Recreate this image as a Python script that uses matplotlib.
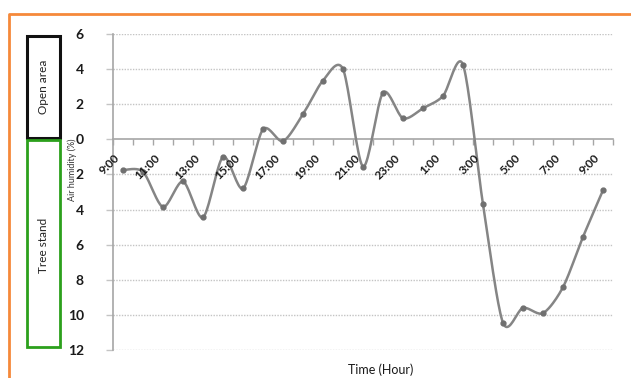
import numpy as np
import matplotlib
matplotlib.use("Agg")
import matplotlib.pyplot as plt
from matplotlib.patches import Rectangle
from matplotlib.lines import Line2D

# ---- data ----
hours = ["9:00", "10:00", "11:00", "12:00", "13:00", "14:00", "15:00", "16:00",
         "17:00", "18:00", "19:00", "20:00", "21:00", "22:00", "23:00", "0:00",
         "1:00", "2:00", "3:00", "4:00", "5:00", "6:00", "7:00", "8:00", "9:00"]
humidity_diff = [-1.75, -1.85, -3.85, -2.4, -4.45, -1.0, -2.8, 0.57, -0.1, 1.43,
                 3.35, 4.0, -1.55, 2.66, 1.2, 1.77, 2.47, 4.25, -3.7, -10.45,
                 -9.6, -9.9, -8.42, -5.56, -2.9]
y_ticks = [-12, -10, -8, -6, -4, -2, 0, 2, 4, 6]
y_tick_labels = ["12", "10", "8", "6", "4", "2", "0", "2", "4", "6"]
label_every = 2

W, H = 631, 378
fig = plt.figure(figsize=(W / 100, H / 100), dpi=100)
plt.rcParams['font.family'] = ['Lato', 'DejaVu Sans']

def fx(px):
    return px / W

def fy(py):
    return 1 - py / H

ax = fig.add_axes([fx(113), fy(350), fx(613) - fx(113), fy(34) - fy(350)])
n = len(humidity_diff)
xs = np.arange(n)
ys = np.array(humidity_diff, dtype=float)

# Catmull-Rom smoothing (Excel-like smoothed line)
def catmull(xp, yp, steps=20, k=0.85):
    P = np.column_stack([xp, yp])
    P = np.vstack([P[0], P, P[-1]])
    out = []
    for i in range(1, len(P) - 2):
        p0, p1, p2, p3 = P[i - 1], P[i], P[i + 1], P[i + 2]
        m1 = k * (p2 - p0) / 2
        m2 = k * (p3 - p1) / 2
        t = np.linspace(0, 1, steps, endpoint=False)[:, None]
        h00 = 2 * t**3 - 3 * t**2 + 1
        h10 = t**3 - 2 * t**2 + t
        h01 = -2 * t**3 + 3 * t**2
        h11 = t**3 - t**2
        out.append(h00 * p1 + h10 * m1 + h01 * p2 + h11 * m2)
    out.append(P[-2][None, :])
    out = np.vstack(out)
    return out[:, 0], out[:, 1]

sx, sy = catmull(xs, ys)

ax.set_xlim(-0.5, n - 0.5)
ax.set_ylim(-12, 6)

# gridlines (dotted)
for yt in y_ticks:
    if yt != 0:
        ax.axhline(yt, color="#c4c4c4", lw=1.0, ls=(0, (1, 1)), zorder=1)

ax.plot(sx, sy, color="#858585", lw=1.8, zorder=3, solid_capstyle="round")
ax.plot(xs, ys, ls="none", marker="o", ms=3.5, color="#707070", zorder=4)

# spines
for s in ["top", "right"]:
    ax.spines[s].set_visible(False)
ax.spines["left"].set_color("#a6a6a6")
ax.spines["left"].set_linewidth(1.2)
ax.spines["bottom"].set_position(("data", 0))
ax.spines["bottom"].set_color("#a6a6a6")
ax.spines["bottom"].set_linewidth(1.2)

ax.set_xticks(np.arange(n + 1) - 0.5)
ax.set_xticklabels([])
ax.tick_params(axis="x", direction="out", length=4, color="#a6a6a6", width=1)

ax.set_yticks(y_ticks)
ax.set_yticklabels(y_tick_labels, fontsize=10, fontweight="bold", color="#1a1a1a")
ax.tick_params(axis="y", direction="out", length=5, color="#c4c4c4", width=1, pad=16)

# rotated category labels
for i in range(0, n, label_every):
    ax.text(i - 0.25, -0.95, hours[i], rotation=45, rotation_mode="anchor",
            ha="right", va="center", fontsize=8.5, fontweight="bold", color="#1a1a1a",
            zorder=5)

# axis titles
fig.text(fx(72), fy(170), "Air humidity (%)", rotation=90, ha="center", va="center",
         fontsize=6.5, color="#333333")
fig.text(fx(381), fy(370), "Time (Hour)", ha="center", va="center",
         fontsize=9, color="#1a1a1a")

# side boxes
fig.patches.append(Rectangle((fx(27), fy(138)), fx(60) - fx(27), fy(36) - fy(138),
                             transform=fig.transFigure, fill=False, edgecolor="#111111",
                             lw=2.2))
fig.patches.append(Rectangle((fx(27), fy(347)), fx(60) - fx(27), fy(140) - fy(347),
                             transform=fig.transFigure, fill=False, edgecolor="#2ca01c",
                             lw=2.0))
fig.text(fx(43.5), fy(87), "Open area", rotation=90, ha="center", va="center",
         fontsize=8.5, color="#222222")
fig.text(fx(43.5), fy(245), "Tree stand", rotation=90, ha="center", va="center",
         fontsize=8.5, color="#222222")

# orange frame (top and left)
fig.lines.append(Line2D([fx(8.5), fx(8.5), 1.0], [0.0, fy(13.5), fy(13.5)],
                        transform=fig.transFigure, color="#f5893a", lw=2.0))

fig.savefig("out.png", dpi=100)
